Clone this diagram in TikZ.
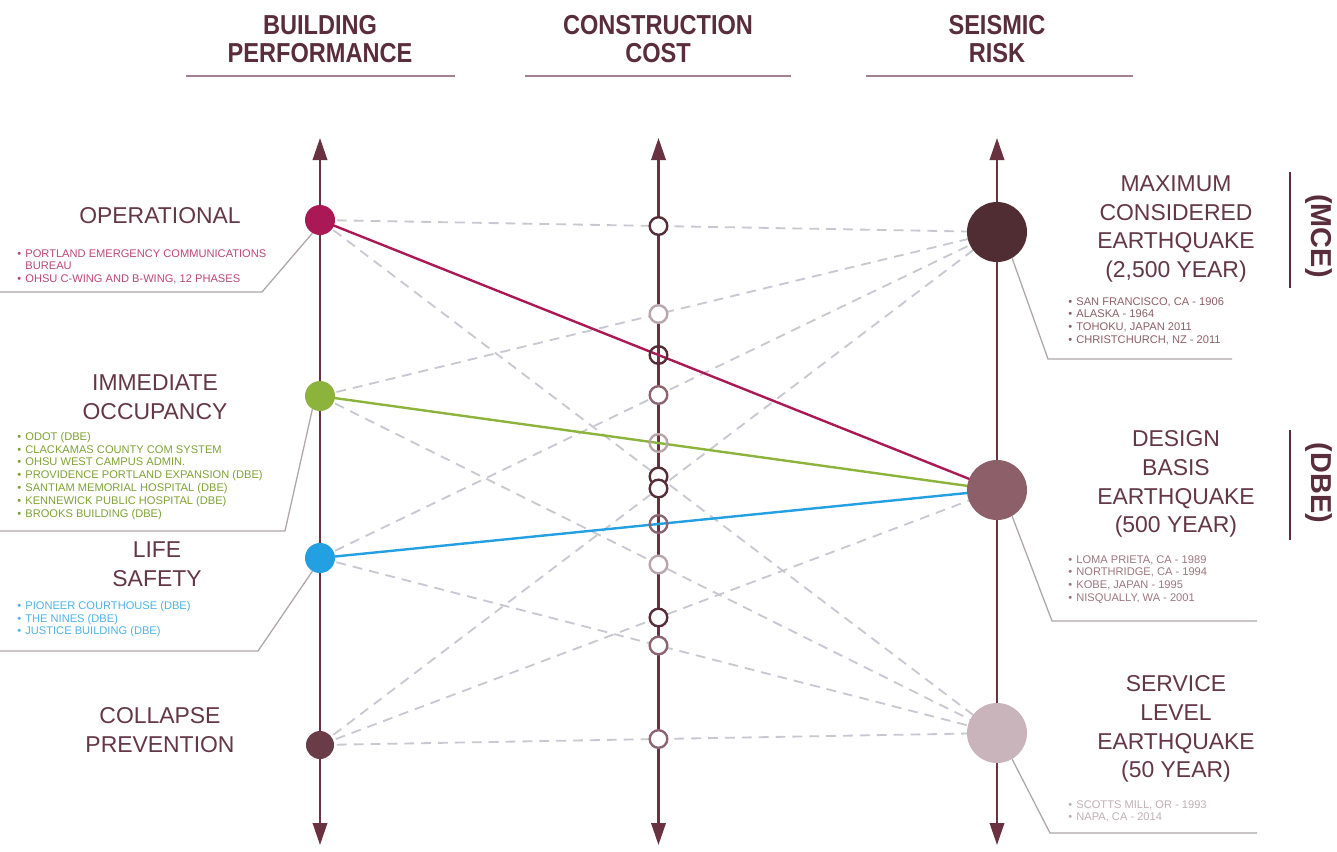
\documentclass[tikz,border=0pt]{standalone}
\usepackage{fontspec}
\setmainfont{Liberation Sans}
\newfontfamily\headfont[FakeStretch=0.86]{Liberation Sans}
\usepackage{tikz}
\usetikzlibrary{arrows.meta, backgrounds}
\definecolor{axisbrown}{RGB}{105, 50, 65}
\definecolor{headbrown}{RGB}{90, 45, 60}
\definecolor{labelbrown}{RGB}{100, 55, 70}
\definecolor{rulemauve}{RGB}{160, 130, 145}
\definecolor{operpink}{RGB}{170, 25, 85}
\definecolor{occugreen}{RGB}{140, 180, 60}
\definecolor{safeblue}{RGB}{35, 160, 225}
\definecolor{collmauve}{RGB}{105, 60, 72}
\definecolor{mcebrown}{RGB}{80, 45, 50}
\definecolor{dbemauve}{RGB}{140, 95, 105}
\definecolor{slepink}{RGB}{200, 180, 186}
\definecolor{dashgray}{RGB}{200, 200, 210}
\definecolor{leadgray}{RGB}{175, 165, 172}
\definecolor{ringdark}{RGB}{85, 45, 55}
\definecolor{ringmid}{RGB}{140, 100, 112}
\definecolor{ringlight}{RGB}{185, 165, 172}
\newcommand{\listdot}{\textbullet\hspace{3pt}}

\tikzset{
    head/.style={headbrown, align=center, font=\headfont\bfseries\fontsize{19.5}{20}\selectfont},
    headrule/.style={rulemauve, line width=1.4pt},
    axisline/.style={axisbrown, line width=1.6pt, {Triangle[length=5.5mm, width=3.6mm]}-{Triangle[length=5.5mm, width=3.6mm]}},
    levelname/.style={labelbrown, align=center, font=\fontsize{16.3}{20.5}\selectfont},
    eqlist/.style={anchor=north west, align=left, inner sep=0pt, font=\fontsize{7.9}{9.1}\selectfont},
    perfdot/.style={circle, minimum size=7.5mm, inner sep=0pt},
    riskdot/.style={circle, minimum size=15mm, inner sep=0pt},
    costring/.style={circle, midway, solid, minimum size=4.4mm, inner sep=0pt, line width=1.7pt, fill=white},
    costlink/.style={dashgray, line width=1.3pt, dash pattern=on 7pt off 5pt},
    mainlink/.style={line width=1.7pt},
    lead/.style={leadgray, line width=0.9pt},
    tagrule/.style={headbrown, line width=1.4pt},
    tag/.style={headbrown, rotate=-90, font=\bfseries\fontsize{20.5}{22}\selectfont},
}

\begin{document}
\begin{tikzpicture}[x=0.025cm, y=-0.025cm]
    \useasboundingbox (0,0) rectangle (1337,851);

    % Column headings
    \node[head] (perfhead) at (320,39) {BUILDING\\PERFORMANCE};
    \node[head] (costhead) at (658,39) {CONSTRUCTION\\COST};
    \node[head] (riskhead) at (997,39) {SEISMIC\\RISK};
    \draw[headrule] (186,76) -- (455,76);
    \draw[headrule] (525,76) -- (791,76);
    \draw[headrule] (866,76) -- (1133,76);

    % Axis ends
    \coordinate (perftop) at (320,138);
    \coordinate (perfbot) at (320,845);
    \coordinate (costtop) at (658.5,138);
    \coordinate (costbot) at (658.5,845);
    \coordinate (risktop) at (997,138);
    \coordinate (riskbot) at (997,845);

    % Performance levels
    \node[perfdot, fill=operpink] (op) at (320,220) {};
    \node[perfdot, fill=occugreen] (io) at (320,396) {};
    \node[perfdot, fill=safeblue] (ls) at (320,558) {};
    \node[perfdot, fill=collmauve, minimum size=7mm] (cp) at (320,745) {};

    % Earthquake levels
    \node[riskdot, fill=mcebrown] (mce) at (997,232) {};
    \node[riskdot, fill=dbemauve] (dbe) at (997,490) {};
    \node[riskdot, fill=slepink] (sle) at (997,733) {};

    \begin{pgfonlayer}{background}
        \fill[white] (0,0) rectangle (1337,851);

        % Axes
        \draw[axisline] (perftop) -- (perfbot);
        \draw[axisline] (costtop) -- (costbot);
        \draw[axisline] (risktop) -- (riskbot);

        % Cost links
        \draw[costlink] (op.center) -- (mce.center) node[costring, draw=ringdark] {};
        \draw[costlink] (op.center) -- (sle.center) node[costring, draw=ringdark] {};
        \draw[costlink] (io.center) -- (mce.center) node[costring, draw=ringlight] {};
        \draw[costlink] (io.center) -- (sle.center) node[costring, draw=ringlight] {};
        \draw[costlink] (ls.center) -- (mce.center) node[costring, draw=ringmid] {};
        \draw[costlink] (ls.center) -- (sle.center) node[costring, draw=ringmid] {};
        \draw[costlink] (cp.center) -- (mce.center) node[costring, draw=ringdark] {};
        \draw[costlink] (cp.center) -- (dbe.center) node[costring, draw=ringdark] {};
        \draw[costlink] (cp.center) -- (sle.center) node[costring, draw=ringmid] {};

        % Links to the design basis earthquake
        \draw[mainlink, operpink] (op.center) -- (dbe.center) node[costring, draw=ringdark, fill=none] {};
        \draw[mainlink, occugreen] (io.center) -- (dbe.center) node[costring, draw=ringlight, fill=none] {};
        \draw[mainlink, safeblue] (ls.center) -- (dbe.center) node[costring, draw=ringmid, fill=none] {};
    \end{pgfonlayer}

    % Performance names
    \node[levelname] (opname) at (160,216) {OPERATIONAL};
    \node[levelname] (ioname) at (155,397) {IMMEDIATE\\OCCUPANCY};
    \node[levelname] (lsname) at (157,564) {LIFE\\SAFETY};
    \node[levelname] (cpname) at (160,730) {COLLAPSE\\PREVENTION};

    % Project lists
    \node[eqlist, text=operpink!80] (oplist) at (17,249) {\listdot PORTLAND EMERGENCY COMMUNICATIONS\\\phantom{\listdot}BUREAU\\\listdot OHSU C-WING AND B-WING, 12 PHASES};
    \node[eqlist, text=occugreen!90!black] (iolist) at (17,432) {\listdot ODOT (DBE)\\\listdot CLACKAMAS COUNTY COM SYSTEM\\\listdot OHSU WEST CAMPUS ADMIN.\\\listdot PROVIDENCE PORTLAND EXPANSION (DBE)\\\listdot SANTIAM MEMORIAL HOSPITAL (DBE)\\\listdot KENNEWICK PUBLIC HOSPITAL (DBE)\\\listdot BROOKS BUILDING (DBE)};
    \node[eqlist, text=safeblue!80] (lslist) at (17,601) {\listdot PIONEER COURTHOUSE (DBE)\\\listdot THE NINES (DBE)\\\listdot JUSTICE BUILDING (DBE)};

    % Earthquake names
    \node[levelname] (mcename) at (1176,229) {MAXIMUM\\CONSIDERED\\EARTHQUAKE\\(2,500 YEAR)};
    \node[levelname] (dbename) at (1176,484) {DESIGN\\BASIS\\EARTHQUAKE\\(500 YEAR)};
    \node[levelname] (slename) at (1176,729) {SERVICE\\LEVEL\\EARTHQUAKE\\(50 YEAR)};

    % Earthquake lists
    \node[eqlist, text=dbemauve] (mcelist) at (1068,297) {\listdot SAN FRANCISCO, CA - 1906\\\listdot ALASKA - 1964\\\listdot TOHOKU, JAPAN 2011\\\listdot CHRISTCHURCH, NZ - 2011};
    \node[eqlist, text=dbemauve!85] (dbelist) at (1068,555) {\listdot LOMA PRIETA, CA - 1989\\\listdot NORTHRIDGE, CA - 1994\\\listdot KOBE, JAPAN - 1995\\\listdot NISQUALLY, WA - 2001};
    \node[eqlist, text=slepink!90!gray] (slelist) at (1068,800) {\listdot SCOTTS MILL, OR - 1993\\\listdot NAPA, CA - 2014};

    % Leaders
    \coordinate (opbend) at (262,292);
    \coordinate (opend) at (0,292);
    \coordinate (iobend) at (285,531);
    \coordinate (ioend) at (0,531);
    \coordinate (lsbend) at (258,651);
    \coordinate (lsend) at (0,651);
    \draw[lead] (op.240) -- (opbend) -- (opend);
    \draw[lead] (io.240) -- (iobend) -- (ioend);
    \draw[lead] (ls.240) -- (lsbend) -- (lsend);

    \coordinate (mcebend) at (1048,359);
    \coordinate (mceend) at (1232,359);
    \coordinate (dbebend) at (1052,621);
    \coordinate (dbeend) at (1257,621);
    \coordinate (slebend) at (1050,833);
    \coordinate (sleend) at (1257,833);
    \draw[lead] (mce.300) -- (mcebend) -- (mceend);
    \draw[lead] (dbe.300) -- (dbebend) -- (dbeend);
    \draw[lead] (sle.300) -- (slebend) -- (sleend);

    % Code tags
    \draw[tagrule] (1290,172) -- (1290,288);
    \node[tag] (mcetag) at (1319,236) {(MCE)};
    \draw[tagrule] (1290,430) -- (1290,540);
    \node[tag] (dbetag) at (1319,483) {(DBE)};

\end{tikzpicture}
\end{document}
